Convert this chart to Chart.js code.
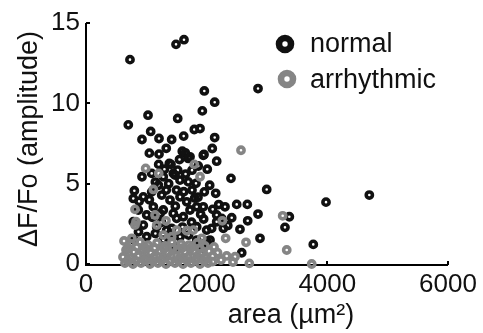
<!DOCTYPE html>
<html><head><meta charset="utf-8">
<script src="https://cdn.jsdelivr.net/npm/chart.js@4"></script>
<style>html,body{margin:0;padding:0;background:#fff;}</style>
</head><body>
<canvas id="c" width="483" height="333" style="width:483px;height:333px;display:block"></canvas>
<script>
const seriesLabels = ['normal', 'arrhythmic'];
const xTickValues = [0, 2000, 4000, 6000];
const yTickValues = [0, 5, 10, 15];
const xTitle = 'area (µm²)';
const yTitle = 'ΔF/Fo (amplitude)';

const normalArea = [729,1492,1624,2851,1961,2133,1928,1028,1520,701,1072,1795,1890,928,1210,1420,1619,2133,1596,1944,2093,2166,1724,1210,1381,1520,2403,2995,1961,2304,2498,2674,2851,2680,2552,2884,3370,3298,3767,2581,3978,4696,2415,928,1089,1281,1447,1558,1696,1823,801,950,1089,1255,1392,1558,1669,1835,1944,1116,1281,1447,1613,1724,1006,950,1172,1337,1558,1835,2000,2055,2166,2166,2276,1006,1281,1835,1646,1696,1956,867,784,1227,1503,1420,2249,2083,1205,1409,1475,784,1757,1757,1856,796,1492,1939,
 1050,1330,1150,1370,1500,1620,1860,2010,2050,2150,2200,1950,1750,1600,1250,1100,880,1050,1330,1800,2100,1400,1700,2000,1150,870,1550,1300,1650,1900,2350,1480,1200];
const normalAmp = [12.72,13.67,13.96,10.92,10.77,10.07,9.53,9.26,9.06,8.66,8.25,8.37,8.43,7.75,7.81,7.75,7.96,7.87,7.02,6.77,7.19,6.40,6.67,6.84,6.26,5.84,5.33,4.64,4.49,3.56,3.71,3.71,3.11,2.69,2.16,1.60,2.94,2.28,1.22,0.70,3.85,4.29,2.88,5.43,5.64,5.43,5.64,5.22,5.11,5.02,4.56,4.18,4.49,4.29,3.98,4.18,3.87,3.56,3.56,3.56,3.36,3.15,2.94,3.36,3.05,2.42,2.32,2.11,1.70,2.32,2.11,1.49,3.05,2.63,2.22,1.70,1.49,1.49,6.92,6.57,6.82,3.36,2.63,3.15,2.84,2.22,2.84,2.22,6.20,6.20,5.53,4.08,4.60,5.84,4.16,1.49,1.06,0.99,
 6.9,7.2,5.1,5.0,4.6,4.5,6.1,5.9,4.9,4.4,3.7,2.8,2.6,2.3,2.6,2.9,3.9,4.0,4.6,4.1,3.4,1.9,1.8,1.4,1.9,2.0,6.5,5.9,5.6,3.1,2.4,3.6,4.9];

const arrhythmicArea = [2569,1795,1890,989,1205,1116,812,1144,829,1326,1503,1669,1779,2259,2315,3260,3327,2100,2332,2470,2707,3741,2652,812,1172,1281,1420,1918,2436,2238,
 630,746,895,1028,1177,1309,1425,1575,1707,1840,1972,2122,
 663,796,945,1077,1227,1359,1508,1641,1790,1923,
 613,729,862,995,1127,1276,1409,1558,1691,1840,1972,
 646,779,912,1061,1193,1326,1475,1608,1740,1890,2022,
 700,840,990,1140,1290,1440,1590,1740,1890,2040,
 690,830,970,1110,1250,1390,1530,1680,1820,1960,2100,2180,760];
const arrhythmicAmp = [7.08,6.20,5.43,5.95,5.64,4.64,3.40,3.05,2.63,2.69,2.11,2.07,2.11,2.69,1.60,3.00,0.87,0.50,0.50,0.45,0.04,0.00,1.35,2.42,2.42,1.80,1.70,1.60,0.12,0.25,
 1.43,1.24,1.37,1.18,1.31,1.12,1.37,1.24,1.18,1.31,1.12,1.06,
 0.87,0.75,0.87,0.68,0.81,0.68,0.87,0.75,0.81,0.68,
 0.44,0.37,0.50,0.37,0.44,0.37,0.50,0.37,0.44,0.37,0.44,
 0.06,0.00,0.06,0.00,0.06,0.00,0.06,0.00,0.06,0.00,0.06,
 1.00,1.05,0.98,1.00,0.95,1.00,0.98,1.00,0.95,0.80,
 0.22,0.20,0.22,0.20,0.22,0.20,0.22,0.20,0.22,0.20,0.15,0.70,1.60];

const BLACK = '#111111';
const GRAY = '#858585';
const FONT = '"Liberation Sans", Arial, sans-serif';

const toPts = (xs, ys) => xs.map((v, i) => ({x: v, y: ys[i]}));

const decor = {
  id: 'decor',
  beforeDatasetsDraw(chart) {
    const {ctx, chartArea: a, scales: {x, y}} = chart;
    ctx.save();
    ctx.strokeStyle = '#000';
    ctx.lineWidth = 2;
    ctx.beginPath();
    ctx.moveTo(a.left, a.top);
    ctx.lineTo(a.left, a.bottom + 1);
    ctx.lineTo(a.right, a.bottom + 1);
    ctx.stroke();
    xTickValues.forEach(v => {
      const px = Math.round(x.getPixelForValue(v));
      ctx.beginPath(); ctx.moveTo(px, a.bottom + 1); ctx.lineTo(px, a.bottom - 3); ctx.stroke();
    });
    yTickValues.forEach(v => {
      const py = Math.round(y.getPixelForValue(v));
      ctx.beginPath(); ctx.moveTo(a.left, py); ctx.lineTo(a.left + 4, py); ctx.stroke();
    });
    ctx.restore();
  },
  afterDraw(chart) {
    const {ctx, chartArea: a} = chart;
    ctx.save();
    ctx.fillStyle = BLACK;
    ctx.font = '27px ' + FONT;
    ctx.textAlign = 'center';
    ctx.textBaseline = 'alphabetic';
    ctx.fillText(xTitle, a.left + 205, 323);
    ctx.translate(37, a.top + 116);
    ctx.rotate(-Math.PI / 2);
    ctx.fillText(yTitle, 0, 0);
    ctx.restore();
    // legend
    ctx.save();
    const items = chart.data.datasets.map(d => ({label: d.label, color: d.borderColor}));
    const pos = [{mx: 285, my: 44, ty: 52}, {mx: 287, my: 79, ty: 88}];
    items.forEach((it, i) => {
      const p = pos[i];
      ctx.beginPath();
      ctx.arc(p.mx, p.my, 6, 0, Math.PI * 2);
      ctx.lineWidth = 6.6;
      ctx.strokeStyle = it.color;
      ctx.stroke();
      ctx.fillStyle = BLACK;
      ctx.font = '27px ' + FONT;
      ctx.textAlign = 'left';
      ctx.textBaseline = 'alphabetic';
      ctx.fillText(it.label, 310, p.ty);
    });
    ctx.restore();
  }
};

new Chart(document.getElementById('c'), {
  type: 'scatter',
  data: {
    datasets: [
      {label: seriesLabels[0], data: toPts(normalArea, normalAmp), borderColor: BLACK, backgroundColor: 'rgba(0,0,0,0)', pointRadius: 3.1, pointBorderWidth: 3.6, borderWidth: 3.6, order: 1, clip: false},
      {label: seriesLabels[1], data: toPts(arrhythmicArea, arrhythmicAmp), borderColor: GRAY, backgroundColor: 'rgba(0,0,0,0)', pointRadius: 3.1, pointBorderWidth: 3.6, borderWidth: 3.6, order: 0, clip: false}
    ]
  },
  options: {
    responsive: false,
    animation: false,
    devicePixelRatio: 1,
    layout: {padding: {left: 0, right: 35, top: 23, bottom: 0}},
    plugins: {legend: {display: false}, tooltip: {enabled: false}},
    events: [],
    scales: {
      x: {
        type: 'linear', min: 0, max: 6000,
        afterBuildTicks: s => { s.ticks = xTickValues.map(v => ({value: v})); },
        afterFit: s => { s.height = 69; },
        grid: {display: false, drawTicks: false},
        border: {display: false},
        ticks: {padding: 5, color: BLACK, font: {family: FONT, size: 26}, maxRotation: 0, autoSkip: false, callback: v => String(v)}
      },
      y: {
        type: 'linear', min: 0, max: 15,
        afterBuildTicks: s => { s.ticks = yTickValues.map(v => ({value: v})); },
        afterFit: s => { s.width = 86; },
        grid: {display: false, drawTicks: false},
        border: {display: false},
        ticks: {padding: 6, color: BLACK, font: {family: FONT, size: 26}, autoSkip: false, callback: v => String(v)}
      }
    }
  },
  plugins: [decor]
});
</script>
</body></html>
